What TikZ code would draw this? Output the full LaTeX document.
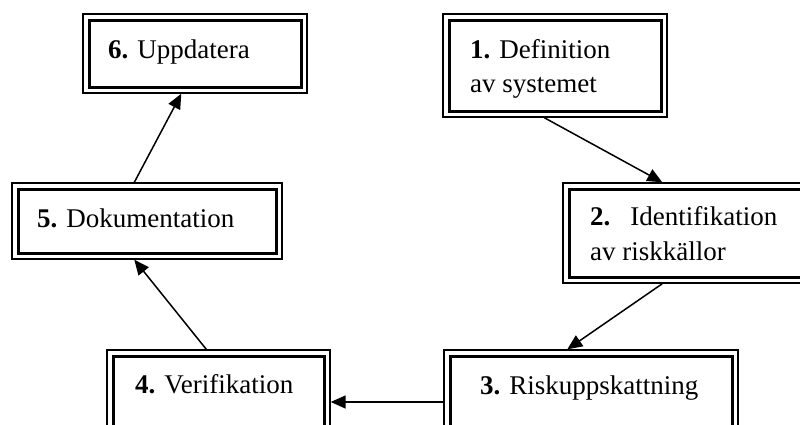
\documentclass[tikz,border=0pt]{standalone}
\usepackage{fontspec}
\setmainfont{Liberation Serif}
\usetikzlibrary{arrows.meta}

\tikzset{
  % thin outer frame with a thick inner frame, as in a thin-thick border
  stepbox/.style={
    draw, line width=1.4pt, fill=white, rectangle, inner sep=0pt,
    path picture={
      \draw[line width=3pt]
        ([xshift=6pt,yshift=-6pt]path picture bounding box.north west)
        rectangle
        ([xshift=-6pt,yshift=6pt]path picture bounding box.south east);
    }
  },
  lbl/.style={inner sep=0pt, anchor=base west, font=\fontsize{27}{35}\selectfont},
  flow/.style={line width=1.5pt, -{Triangle[length=15pt,width=13pt]}}
}

\begin{document}
\begin{tikzpicture}[x=1pt,y=-1pt]
  \useasboundingbox (0,0) rectangle (800,424);
  \clip (0,0) rectangle (800,424);

  % process boxes
  \node[stepbox, minimum width=224pt, minimum height=79pt]  (b6) at (195,53.5) {};
  \node[stepbox, minimum width=224pt, minimum height=103pt] (b1) at (555,65.5) {};
  \node[stepbox, minimum width=249pt, minimum height=100pt] (b2) at (687.5,233) {};
  \node[stepbox, minimum width=270pt, minimum height=76pt]  (b5) at (147,221) {};
  \node[stepbox, minimum width=294pt, minimum height=104pt] (b3) at (591,402) {};
  \node[stepbox, minimum width=223pt, minimum height=104pt] (b4) at (218.5,402) {};

  % box texts
  \node[lbl] (t6)  at (108,58)  {\textbf{6.} Uppdatera};
  \node[lbl] (t1a) at (470,58)  {\textbf{1.} Definition};
  \node[lbl] (t1b) at (470,92)  {av systemet};
  \node[lbl] (t2a) at (590,225) {\textbf{2.}\hspace{20pt}Identifikation};
  \node[lbl] (t2b) at (590,260) {av riskkällor};
  \node[lbl] (t3)  at (480,394) {\textbf{3.} Riskuppskattning};
  \node[lbl] (t4)  at (135,393) {\textbf{4.} Verifikation};
  \node[lbl] (t5)  at (37,227)  {\textbf{5.} Dokumentation};

  % flow between the steps
  \draw[flow] ([xshift=102pt]b1.south west) -- ([xshift=100pt]b2.north west);
  \draw[flow] ([xshift=100pt]b2.south west) -- ([xshift=124pt]b3.north west);
  \draw[flow] (b3.west) -- (b4.east);
  \draw[flow] ([xshift=100pt]b4.north west) -- ([xshift=123pt]b5.south west);
  \draw[flow] ([xshift=123pt]b5.north west) -- ([xshift=99pt]b6.south west);
\end{tikzpicture}
\end{document}
